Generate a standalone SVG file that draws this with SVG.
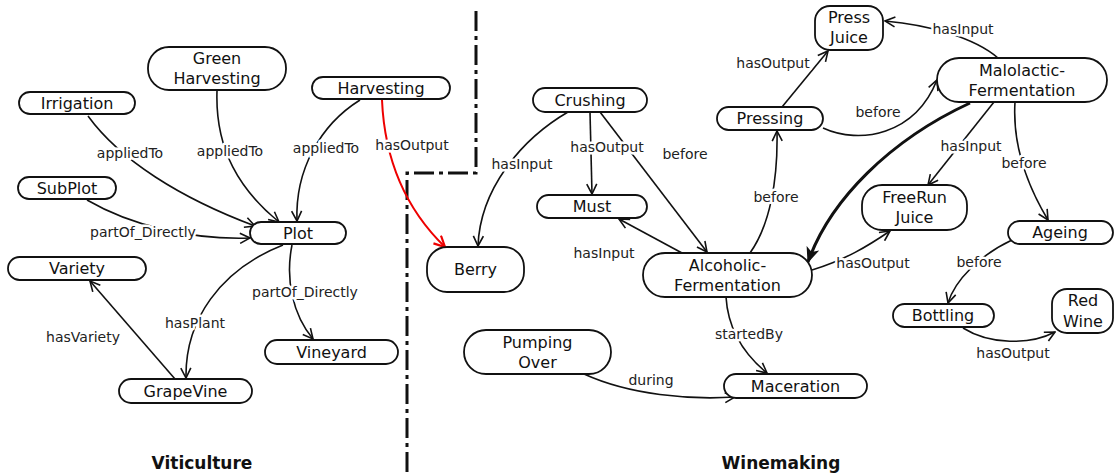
<svg xmlns="http://www.w3.org/2000/svg" width="1114" height="475" viewBox="0 0 1114 475">
<defs>
<style>
.n rect{fill:#fff;stroke:#111;stroke-width:1.8}
.n text{font-family:"DejaVu Sans",sans-serif;font-size:16px;fill:#111;text-anchor:middle}
.e path{fill:none;stroke:#111;stroke-width:1.6}
.e path.red{stroke:#e00;stroke-width:2}
.e path.bold{stroke-width:3}
.lbl text{font-family:"DejaVu Sans",sans-serif;font-size:14px;fill:#222;text-anchor:middle;stroke:#fff;stroke-width:5;paint-order:stroke;stroke-linejoin:round}
.title{font-family:"DejaVu Sans",sans-serif;font-size:17px;font-weight:bold;fill:#111;text-anchor:middle}
.div{fill:none;stroke:#111;stroke-width:3;stroke-dasharray:20 5 4 5}
</style>
<marker id="a" viewBox="0 0 12 12" refX="11" refY="6" markerWidth="12" markerHeight="12" markerUnits="userSpaceOnUse" orient="auto">
<path d="M1,1 L11,6 L1,11" fill="none" stroke="#111" stroke-width="1.6"/>
</marker>
<marker id="ar" viewBox="0 0 12 12" refX="11" refY="6" markerWidth="13" markerHeight="13" markerUnits="userSpaceOnUse" orient="auto">
<path d="M1,1 L11,6 L1,11" fill="none" stroke="#e00" stroke-width="2"/>
</marker>
<marker id="ab" viewBox="0 0 12 12" refX="11" refY="6" markerWidth="16" markerHeight="16" markerUnits="userSpaceOnUse" orient="auto">
<path d="M0,1 L12,6 L0,11 L3,6 Z" fill="#111"/>
</marker>
</defs>
<rect width="1114" height="475" fill="#fff"/>
<path class="div" d="M476,11 L476,173 L407,173 L407,472"/>
<g id="connectors" class="e">
<path d="M88,116 C120,160 180,198 255,226" marker-end="url(#a)"/>
<path d="M217,91 C215,150 240,190 279,222" marker-end="url(#a)"/>
<path d="M360,100 C320,125 295,170 297,221" marker-end="url(#a)"/>
<path class="red" d="M382,100 C385,170 412,215 445,247" marker-end="url(#ar)"/>
<path d="M87,200 C130,225 190,240 250,238" marker-end="url(#a)"/>
<path d="M283,245 C220,270 185,320 186,378" marker-end="url(#a)"/>
<path d="M292,245 C285,280 293,315 313,339" marker-end="url(#a)"/>
<path d="M175,379 L90,281" marker-end="url(#a)"/>
<path d="M568,112 C520,140 480,190 478,246" marker-end="url(#a)"/>
<path d="M590,112 L592,194" marker-end="url(#a)"/>
<path d="M600,112 L707,252" marker-end="url(#a)"/>
<path d="M682,253 L619,219" marker-end="url(#a)"/>
<path d="M750,253 C770,225 778,180 777,131" marker-end="url(#a)"/>
<path d="M782,107 L828,51" marker-end="url(#a)"/>
<path d="M998,58 C975,38 930,25 885,21" marker-end="url(#a)"/>
<path d="M823,128 C860,145 915,135 937,80" marker-end="url(#a)"/>
<path class="bold" d="M970,103 C890,140 830,200 808,262" marker-end="url(#ab)"/>
<path d="M994,102 L928,185" marker-end="url(#a)"/>
<path d="M1015,102 C1012,150 1030,190 1048,220" marker-end="url(#a)"/>
<path d="M812,270 C845,260 868,246 890,231" marker-end="url(#a)"/>
<path d="M1012,240 C980,255 955,280 948,303" marker-end="url(#a)"/>
<path d="M963,328 C990,345 1030,345 1055,332" marker-end="url(#a)"/>
<path d="M726,297 C728,330 745,355 767,373" marker-end="url(#a)"/>
<path d="M584,374 C630,395 690,400 735,397" marker-end="url(#a)"/>
</g>
<g id="labels" class="lbl">
<text x="130" y="158">appliedTo</text>
<text x="230" y="156">appliedTo</text>
<text x="326" y="153">appliedTo</text>
<text x="412" y="150">hasOutput</text>
<text x="143" y="237">partOf_Directly</text>
<text x="305" y="297">partOf_Directly</text>
<text x="195" y="328">hasPlant</text>
<text x="83" y="342">hasVariety</text>
<text x="522" y="169">hasInput</text>
<text x="607" y="152">hasOutput</text>
<text x="685" y="159">before</text>
<text x="604" y="258">hasInput</text>
<text x="776" y="202">before</text>
<text x="773" y="68">hasOutput</text>
<text x="963" y="34">hasInput</text>
<text x="878" y="117">before</text>
<text x="971" y="151">hasInput</text>
<text x="1024" y="168">before</text>
<text x="873" y="268">hasOutput</text>
<text x="979" y="267">before</text>
<text x="1013" y="358">hasOutput</text>
<text x="749" y="339">startedBy</text>
<text x="651" y="385">during</text>
</g>
<g id="Irrigation" class="n"><rect x="19" y="92" width="116" height="22" rx="11"/><text x="77" y="108.5">Irrigation</text></g>
<g id="GreenHarvesting" class="n"><rect x="148" y="47" width="138" height="43" rx="21"/><text x="217" y="64">Green</text><text x="217" y="84">Harvesting</text></g>
<g id="Harvesting" class="n"><rect x="312" y="77" width="138" height="22" rx="11"/><text x="381" y="93.5">Harvesting</text></g>
<g id="SubPlot" class="n"><rect x="18" y="177" width="98" height="22" rx="11"/><text x="67" y="193.5">SubPlot</text></g>
<g id="Plot" class="n"><rect x="250" y="222" width="96" height="22" rx="11"/><text x="298" y="238.5">Plot</text></g>
<g id="Variety" class="n"><rect x="8" y="257" width="138" height="23" rx="11.5"/><text x="77" y="274">Variety</text></g>
<g id="Vineyard" class="n"><rect x="265" y="340" width="133" height="24" rx="12"/><text x="331.5" y="357.5">Vineyard</text></g>
<g id="GrapeVine" class="n"><rect x="119" y="379" width="133" height="24" rx="12"/><text x="185.5" y="396.5">GrapeVine</text></g>
<g id="Berry" class="n"><rect x="427" y="247" width="97" height="45" rx="20"/><text x="475.5" y="275">Berry</text></g>
<g id="Crushing" class="n"><rect x="533" y="88" width="114" height="24" rx="12"/><text x="590" y="105.5">Crushing</text></g>
<g id="Must" class="n"><rect x="537" y="195" width="110" height="23" rx="11.5"/><text x="592" y="212">Must</text></g>
<g id="Pressing" class="n"><rect x="717" y="107" width="106" height="23" rx="11.5"/><text x="770" y="124">Pressing</text></g>
<g id="PressJuice" class="n"><rect x="815" y="6" width="68" height="44" rx="15"/><text x="849" y="23">Press</text><text x="849" y="43">Juice</text></g>
<g id="MalolacticFermentation" class="n"><rect x="937" y="58" width="170" height="44" rx="22"/><text x="1022" y="76">Malolactic-</text><text x="1022" y="96">Fermentation</text></g>
<g id="FreeRunJuice" class="n"><rect x="862" y="185" width="105" height="45" rx="20"/><text x="914.5" y="203">FreeRun</text><text x="914.5" y="223">Juice</text></g>
<g id="Ageing" class="n"><rect x="1008" y="221" width="105" height="23" rx="11.5"/><text x="1060" y="238">Ageing</text></g>
<g id="Bottling" class="n"><rect x="893" y="304" width="101" height="23" rx="11.5"/><text x="943" y="321">Bottling</text></g>
<g id="RedWine" class="n"><rect x="1052" y="289" width="61" height="44" rx="15"/><text x="1083" y="306">Red</text><text x="1083" y="327">Wine</text></g>
<g id="AlcoholicFermentation" class="n"><rect x="643" y="253" width="169" height="44" rx="22"/><text x="727.5" y="271">Alcoholic-</text><text x="727.5" y="291">Fermentation</text></g>
<g id="PumpingOver" class="n"><rect x="464" y="330" width="147" height="44" rx="22"/><text x="537.5" y="348">Pumping</text><text x="537.5" y="368">Over</text></g>
<g id="Maceration" class="n"><rect x="724" y="374" width="143" height="24" rx="12"/><text x="795.5" y="391.5">Maceration</text></g>
<text class="title" x="202" y="469">Viticulture</text>
<text class="title" x="781" y="469">Winemaking</text>
</svg>
